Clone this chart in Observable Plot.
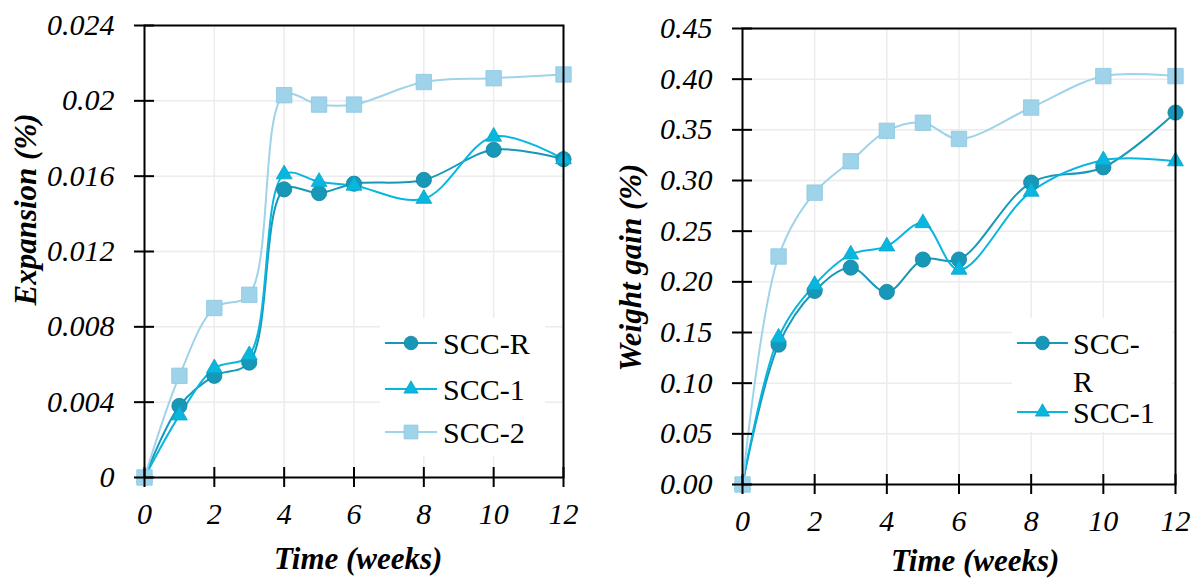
<!DOCTYPE html>
<html>
<head>
<meta charset="utf-8">
<script src="https://cdn.jsdelivr.net/npm/d3@7"></script>
<script src="https://cdn.jsdelivr.net/npm/@observablehq/plot@0.6"></script>
<style>
  html, body { margin: 0; padding: 0; background: #ffffff; }
  #wrap { position: relative; width: 1196px; height: 578px; overflow: hidden; background: #fff; }
  .panel { position: absolute; top: 0; }
  .title { position: absolute; font-family: "Liberation Serif", "Times New Roman", serif; font-style: italic; font-weight: bold; font-size: 31px; white-space: nowrap; color: #000; line-height: 1; }
  .legend { position: absolute; background: #fff; }
</style>
</head>
<body>
<div id="wrap"></div>
<script>
// ---------- data ----------
const weeks = [0, 1, 2, 3, 4, 5, 6, 8, 10, 12];
const seriesNames = ["SCC-R", "SCC-1", "SCC-2"];
const seriesColors = ["#1898b9", "#08b6de", "#9fd3ea"];
const seriesSymbols = ["circle", "triangle", "square"];

const expansionR  = [0, 0.0038, 0.0054, 0.0061, 0.0153, 0.0151, 0.0156, 0.0158, 0.0174, 0.0169];
const expansion1  = [0, 0.0033, 0.0058, 0.0065, 0.0161, 0.0157, 0.0155, 0.0148, 0.0181, 0.0169];
const expansion2  = [0, 0.0054, 0.0090, 0.0097, 0.0203, 0.0198, 0.0198, 0.0210, 0.0212, 0.0214];

const weightR = [0, 0.138, 0.191, 0.214, 0.190, 0.222, 0.222, 0.298, 0.313, 0.367];
const weight1 = [0, 0.145, 0.197, 0.227, 0.235, 0.258, 0.212, 0.289, 0.320, 0.319];
const weight2 = [0, 0.225, 0.288, 0.319, 0.349, 0.357, 0.341, 0.372, 0.403, 0.403];

const xTicks = [0, 2, 4, 6, 8, 10, 12];
const expTicks = [0, 0.004, 0.008, 0.012, 0.016, 0.02, 0.024];
const expTickLabels = ["0", "0.004", "0.008", "0.012", "0.016", "0.02", "0.024"];
const wTicks = [0, 0.05, 0.10, 0.15, 0.20, 0.25, 0.30, 0.35, 0.40, 0.45];
const wTickLabels = ["0.00", "0.05", "0.10", "0.15", "0.20", "0.25", "0.30", "0.35", "0.40", "0.45"];

const xTitle = "Time (weeks)";
const yTitleLeft = "Expansion (%)";
const yTitleRight = "Weight gain (%)";

// ---------- build tables ----------
function table(arrays) {
  const rows = [];
  arrays.forEach((arr, si) => arr.forEach((v, i) => rows.push({ week: weeks[i], value: v, series: seriesNames[si] })));
  return rows;
}
const expData = table([expansionR, expansion1, expansion2]);
const wData = table([weightR, weight1, weight2]);

const rBySymbol = { circle: 7.6, triangle: 5.9, square: 8.7 };
const strokeBySeries = { "SCC-R": "#13809c", "SCC-1": "#07a6cc", "SCC-2": "#8cc8e2" };

function chart(data, yDomain, yTicks, yLabels, m) {
  const fmt = v => yLabels[yTicks.findIndex(t => Math.abs(t - v) < 1e-9)];
  const dots = seriesNames.map((s, i) =>
    Plot.dot(data.filter(d => d.series === s), {
      x: "week", y: "value", symbol: () => seriesSymbols[i], r: rBySymbol[seriesSymbols[i]],
      fill: seriesColors[i], stroke: strokeBySeries[s], strokeWidth: 0.8
    })
  );
  return Plot.plot({
    width: 598, height: 578,
    marginLeft: m.left, marginRight: m.right, marginTop: m.top, marginBottom: m.bottom,
    style: { fontFamily: "'Liberation Serif', 'Times New Roman', serif", fontStyle: "italic", fontSize: "30px", color: "#000", background: "transparent", overflow: "visible" },
    x: { domain: [0, 12] },
    y: { domain: yDomain },
    symbol: { domain: seriesSymbols, range: seriesSymbols },
    color: { domain: seriesNames, range: seriesColors },
    marks: [
      Plot.gridX(xTicks.slice(1), { stroke: "#ececec", strokeOpacity: 1, strokeWidth: 1.5 }),
      Plot.gridY(yTicks.slice(1), { stroke: "#ececec", strokeOpacity: 1, strokeWidth: 1.5 }),
      Plot.line(data, { x: "week", y: "value", z: "series", stroke: "series", curve: "catmull-rom", strokeWidth: 2 }),
      ...dots,
      Plot.frame({ stroke: "#000", strokeWidth: 2 }),
      Plot.axisX(xTicks, { tickSize: 20, dy: -10, tickPadding: 15, label: null, fontSize: 30, stroke: "#000", strokeWidth: 2 }),
      Plot.axisY(yTicks, { tickSize: 20, dx: 10, tickPadding: 20, label: null, fontSize: 30, tickFormat: fmt, stroke: "#000", strokeWidth: 2 })
    ]
  });
}

const wrap = document.getElementById("wrap");

const left = chart(expData, [0, 0.024], expTicks, expTickLabels, { left: 144, right: 35, top: 25, bottom: 101 });
left.classList.add("panel"); left.style.position = "absolute"; left.style.left = "0px"; left.style.top = "0px";
wrap.appendChild(left);

const right = chart(wData, [0, 0.45], wTicks, wTickLabels, { left: 144, right: 21, top: 28, bottom: 94 });
right.classList.add("panel"); right.style.position = "absolute"; right.style.left = "598px"; right.style.top = "0px";
wrap.appendChild(right);

// ---------- titles ----------
function addTitle(text, cx, cy, rotate) {
  const el = document.createElement("div");
  el.className = "title";
  el.textContent = text;
  wrap.appendChild(el);
  const w = el.offsetWidth, h = el.offsetHeight;
  el.style.left = (cx - w / 2) + "px";
  el.style.top = (cy - h / 2) + "px";
  if (rotate) el.style.transform = "rotate(-90deg)";
}
addTitle(xTitle, 358, 558, false);
addTitle(xTitle, 975, 560, false);
addTitle(yTitleLeft, 25, 209, true);
addTitle(yTitleRight, 631, 267, true);

// ---------- legends ----------
function legend(items, box) {
  const ns = "http://www.w3.org/2000/svg";
  const svg = document.createElementNS(ns, "svg");
  svg.setAttribute("width", box.w); svg.setAttribute("height", box.h);
  svg.setAttribute("class", "legend");
  svg.style.left = box.x + "px"; svg.style.top = box.y + "px";
  items.forEach(it => {
    const i = seriesNames.indexOf(it.series);
    const sym = seriesSymbols[i];
    const cy = it.y - box.y;
    if (it.marker) {
      const line = document.createElementNS(ns, "line");
      line.setAttribute("x1", box.lx1 - box.x); line.setAttribute("x2", box.lx2 - box.x);
      line.setAttribute("y1", cy); line.setAttribute("y2", cy);
      line.setAttribute("stroke", seriesColors[i]); line.setAttribute("stroke-width", 2);
      svg.appendChild(line);
      const p = document.createElementNS(ns, "path");
      const sz = Math.PI * rBySymbol[sym] * rBySymbol[sym] * 0.8;
      const s = sym === "circle" ? d3.symbolCircle : sym === "triangle" ? d3.symbolTriangle : d3.symbolSquare;
      p.setAttribute("d", d3.symbol(s, sz)());
      p.setAttribute("transform", `translate(${(box.lx1 + box.lx2) / 2 - box.x},${cy})`);
      p.setAttribute("fill", seriesColors[i]); p.setAttribute("stroke", strokeBySeries[it.series]); p.setAttribute("stroke-width", 0.8);
      svg.appendChild(p);
    }
    const t = document.createElementNS(ns, "text");
    t.setAttribute("x", box.tx - box.x); t.setAttribute("y", cy);
    t.setAttribute("dy", "0.35em");
    t.setAttribute("font-family", "'Liberation Serif', 'Times New Roman', serif");
    t.setAttribute("font-size", 30);
    t.textContent = it.text;
    svg.appendChild(t);
  });
  wrap.appendChild(svg);
}
legend([
  { series: "SCC-R", text: "SCC-R", y: 343, marker: true },
  { series: "SCC-1", text: "SCC-1", y: 389, marker: true },
  { series: "SCC-2", text: "SCC-2", y: 432, marker: true }
], { x: 380, y: 318, w: 165, h: 138, lx1: 385, lx2: 437, tx: 443 });
legend([
  { series: "SCC-R", text: "SCC-", y: 343, marker: true },
  { series: "SCC-R", text: "R", y: 381, marker: false },
  { series: "SCC-1", text: "SCC-1", y: 412, marker: true }
], { x: 1012, y: 318, w: 160, h: 114, lx1: 1017, lx2: 1068, tx: 1073 });
</script>
</body>
</html>
